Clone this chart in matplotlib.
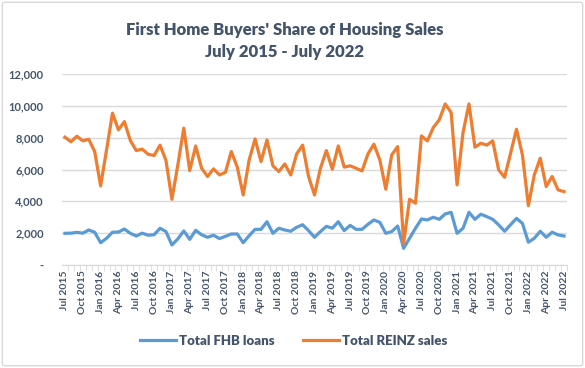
import matplotlib
matplotlib.use("Agg")
import matplotlib.pyplot as plt
from matplotlib.patches import FancyBboxPatch
from matplotlib.ticker import FuncFormatter, MultipleLocator

months = ["Jan", "Feb", "Mar", "Apr", "May", "Jun", "Jul", "Aug", "Sep", "Oct", "Nov", "Dec"]
categories = []
for i in range(85):
    m = (6 + i) % 12
    y = 2015 + (6 + i) // 12
    categories.append(f"{months[m]} {y}")

fhb_loans = [
    1990, 2000, 2050, 2000, 2200, 2060, 1400, 1680, 2060, 2070, 2260, 1990,
    1820, 2000, 1870, 1900, 2310, 2100, 1260, 1640, 2140, 1610, 2180, 1900,
    1740, 1870, 1660, 1800, 1950, 1950, 1400, 1840, 2240, 2240, 2720, 1990,
    2310, 2200, 2120, 2370, 2530, 2160, 1740, 2100, 2430, 2310, 2720, 2160,
    2490, 2240, 2240, 2560, 2830, 2680, 1990, 2100, 2450, 1050, 1680, 2310,
    2890, 2830, 3000, 2870, 3210, 3310, 1990, 2310, 3310, 2870, 3190, 3040,
    2870, 2520, 2120, 2530, 2930, 2620, 1430, 1680, 2120, 1740, 2060, 1890,
    1820,
]
reinz_sales = [
    8030, 7740, 8090, 7800, 7900, 7130, 4970, 7230, 9540, 8490, 9010, 7820,
    7190, 7280, 6960, 6880, 7530, 6570, 4130, 6300, 8600, 5930, 7480, 6080,
    5560, 6040, 5660, 5820, 7130, 6150, 4400, 6600, 7920, 6500, 7860, 6230,
    5870, 6350, 5660, 6980, 7530, 5560, 4400, 6080, 7190, 6020, 7480, 6150,
    6230, 6080, 5910, 6980, 7590, 6600, 4760, 6920, 7440, 1360, 4130, 3880,
    8110, 7800, 8640, 9120, 10120, 9580, 5030, 8320, 10120, 7400, 7650, 7530,
    7800, 5970, 5510, 7020, 8530, 6920, 3730, 5660, 6710, 4930, 5560, 4720,
    4610,
]

TXT = "#44546A"
GRID = "#d9d9d9"
BLUE = "#5B9BD5"
ORANGE = "#ED7D31"
FONT = ["Lato", "DejaVu Sans"]

fig = plt.figure(figsize=(5.85, 3.68), dpi=100)
fig.patch.set_facecolor("white")
border = FancyBboxPatch((0.004, 0.006), 0.992, 0.988, boxstyle="round,pad=0,rounding_size=0.006",
                        transform=fig.transFigure, facecolor="none", edgecolor=GRID, linewidth=1.0,
                        zorder=-1)
fig.patches.append(border)

ax = fig.add_axes([62 / 585, 1 - 265 / 368, (567 - 62) / 585, (265 - 74) / 368])
ax.patch.set_alpha(0)
x = list(range(len(categories)))
ax.plot(x, fhb_loans, color=BLUE, linewidth=2.3, solid_joinstyle="round", label="Total FHB loans")
ax.plot(x, reinz_sales, color=ORANGE, linewidth=2.3, solid_joinstyle="round", label="Total REINZ sales")

ax.set_xlim(-0.5, len(categories) - 0.5)
ax.set_ylim(0, 12000)
ax.yaxis.set_major_locator(MultipleLocator(2000))
ax.yaxis.set_major_formatter(FuncFormatter(lambda v, p: "-" if v == 0 else f"{int(v):,}"))
ax.grid(axis="y", color=GRID, linewidth=1.0)
ax.set_axisbelow(True)
for s in ["top", "right", "left"]:
    ax.spines[s].set_visible(False)
ax.spines["bottom"].set_color(GRID)

ax.set_xticks(x[::3])
ax.set_xticklabels(categories[::3], rotation=90, fontsize=7.5, color=TXT, family=FONT,
                   fontweight="bold")
ax.set_xticks([i + 0.5 for i in x], minor=True)
ax.tick_params(axis="x", which="major", length=0, pad=4)
ax.tick_params(axis="x", which="minor", length=4, color=GRID)
ax.tick_params(axis="y", length=0, labelsize=8, labelcolor=TXT, pad=13)
for lab in ax.get_yticklabels():
    lab.set_family(FONT)
    lab.set_fontweight("bold")

fig.text(0.486, 1 - 30 / 368, "First Home Buyers' Share of Housing Sales", ha="center", va="center",
         fontsize=12, fontweight="heavy", color=TXT, family=FONT)
fig.text(0.486, 1 - 52 / 368, "July 2015 - July 2022", ha="center", va="center",
         fontsize=12, fontweight="heavy", color=TXT, family=FONT)

leg = fig.legend(loc="center", bbox_to_anchor=(0.502, 1 - 341 / 368), ncol=2, frameon=False,
                 prop={"family": FONT, "weight": "heavy", "size": 9.5}, handlelength=2.7,
                 handletextpad=0.2, columnspacing=2.2)
for t in leg.get_texts():
    t.set_color(TXT)

fig.savefig("out.png", dpi=100, facecolor="white")
